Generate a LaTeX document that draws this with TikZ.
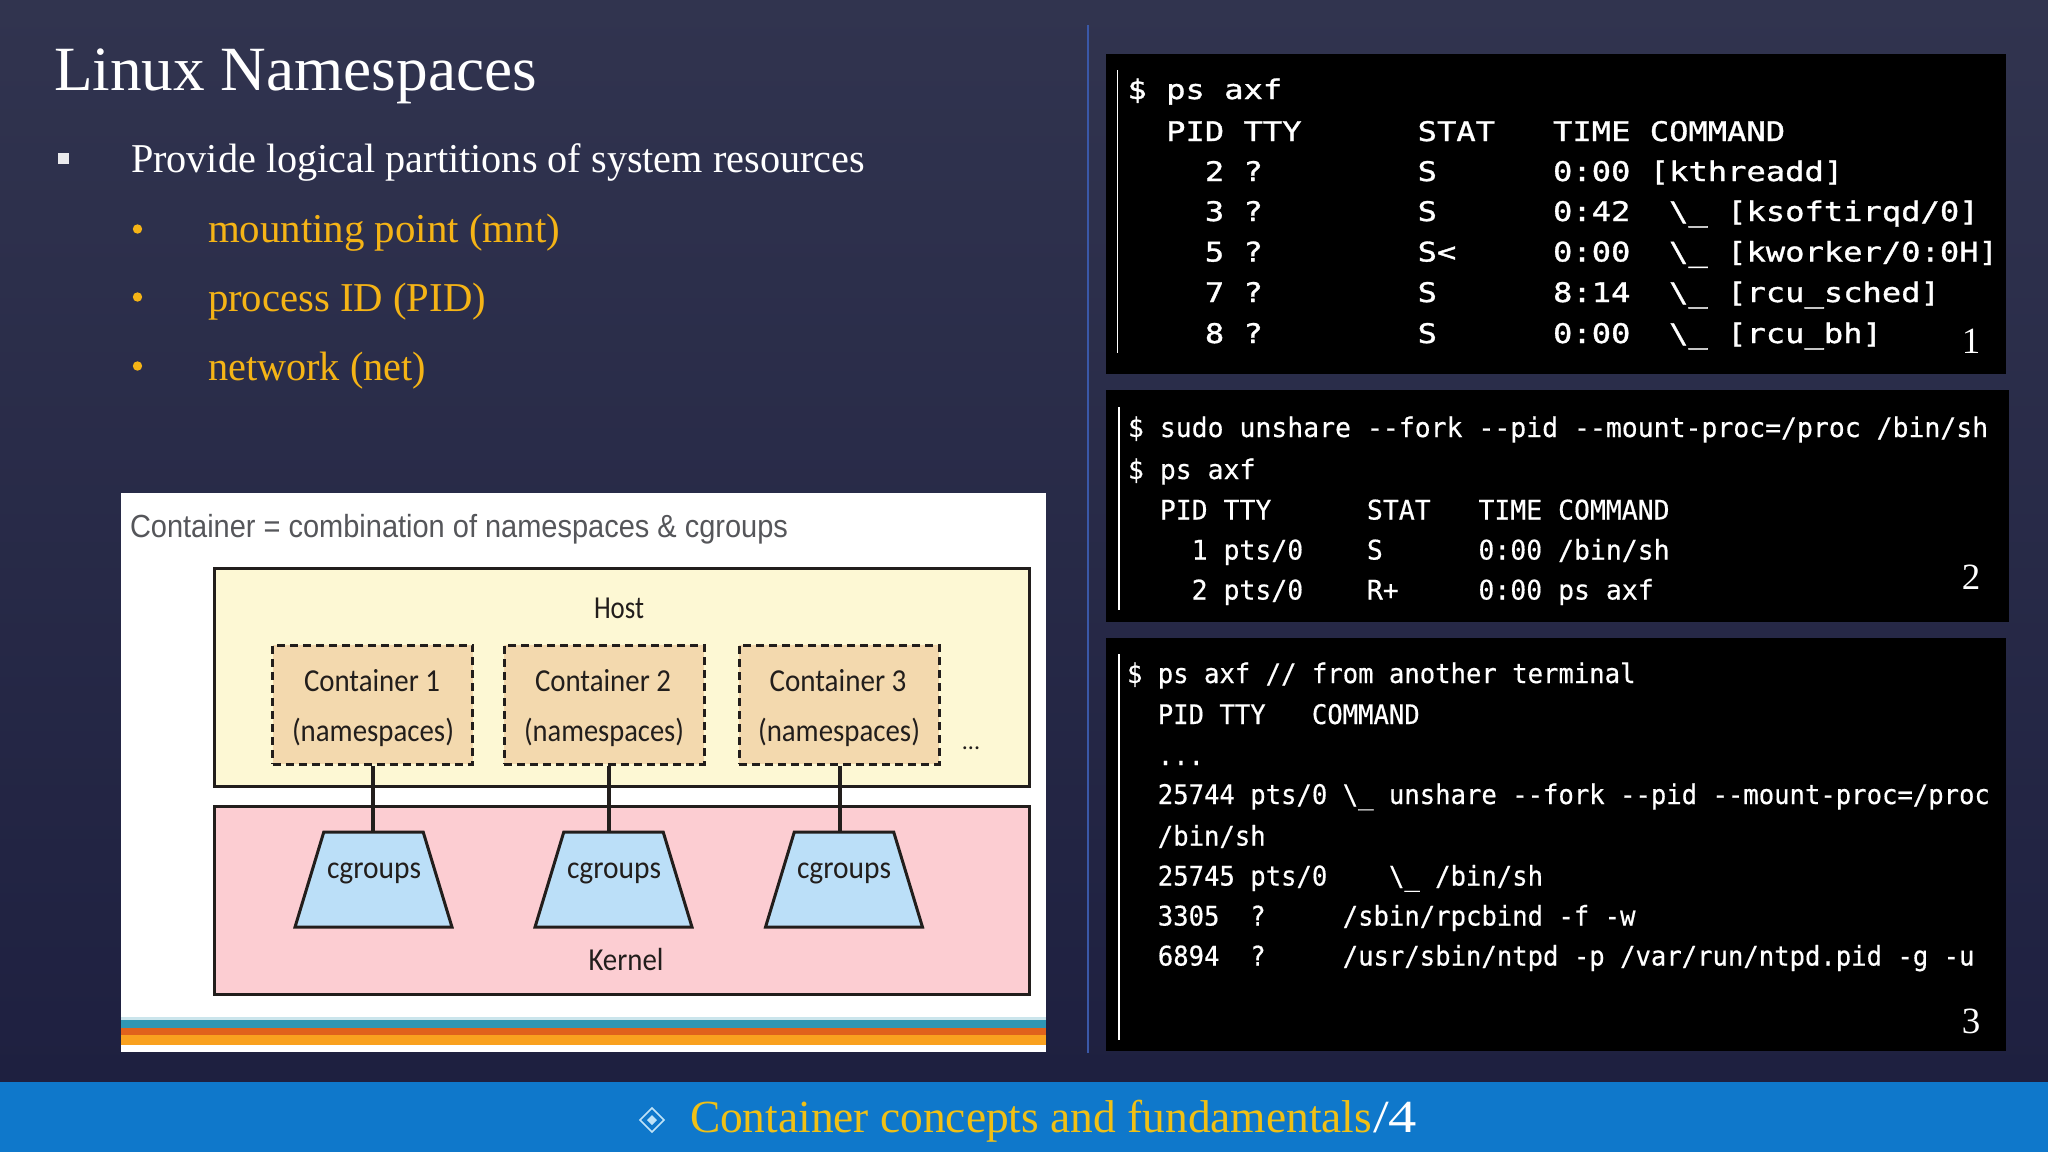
\documentclass[tikz,border=0pt]{standalone}
\usepackage{graphicx}
\usepackage{fontspec}
\usetikzlibrary{shapes.geometric}
\setmainfont{Liberation Serif}
\newfontfamily\lblfont{Carlito}
\newfontfamily\capfont{Liberation Sans}
\newfontfamily\monoa[FakeStretch=1.19,FakeBold=1.2]{DejaVu Sans Mono}
\newfontfamily\monob[FakeStretch=0.98,FakeBold=0.5]{DejaVu Sans Mono}
\newfontfamily\monoc[FakeStretch=0.948,FakeBold=0.5]{DejaVu Sans Mono}
\newsavebox\fitbox
\newcommand\fitx[2]{\sbox\fitbox{#2}\pgfmathsetmacro\fitratio{#1/\wd\fitbox}\scalebox{\fitratio}[1]{\usebox\fitbox}}
\newcommand\fsz[1]{\fontsize{#1}{#1}\selectfont}
\definecolor{bgtop}{HTML}{31344F}
\definecolor{bgmid}{HTML}{2A2C49}
\definecolor{bgbot}{HTML}{1E2040}
\definecolor{barblue}{HTML}{0F78CB}
\definecolor{gold}{HTML}{F5B416}
\definecolor{footgold}{HTML}{F0C015}
\definecolor{rulecol}{HTML}{3A58A8}
\definecolor{ink}{HTML}{221E1C}
\definecolor{hostfill}{HTML}{FDF8D4}
\definecolor{contfill}{HTML}{F3D9AE}
\definecolor{kernfill}{HTML}{FCCDD2}
\definecolor{cgfill}{HTML}{BBDFF8}
\definecolor{capgrey}{HTML}{55565A}
\definecolor{teal}{HTML}{2F97B4}
\definecolor{rust}{HTML}{E0621C}
\definecolor{amber}{HTML}{F9A11F}
\definecolor{icon}{HTML}{BFE3F7}
\tikzset{
  txt/.style={inner sep=0pt,outer sep=0pt,anchor=base west},
  ctr/.style={inner sep=0pt,outer sep=0pt,anchor=base},
  titletxt/.style={txt,text=white,font=\fsz{63}},
  bodytxt/.style={txt,text=white,font=\fsz{41}},
  subtxt/.style={txt,text=gold,font=\fsz{41}},
  foot/.style={txt,text=footgold,font=\fsz{46}},
  panel/.style={fill=black,draw=none},
  tvbar/.style={draw=white,line width=1.3pt},
  ta/.style={txt,text=white,font=\monoa\fsz{27}},
  tb/.style={txt,text=white,font=\monob\fsz{27}},
  tc/.style={txt,text=white,font=\monoc\fsz{27}},
  num/.style={ctr,text=white,font=\fsz{37}},
  boxa/.style={rectangle,draw=ink,line width=3pt,inner sep=0pt},
  contbox/.style={rectangle,draw=ink,fill=contfill,line width=3pt,dash pattern=on 8pt off 5pt,inner sep=0pt,minimum width=200pt,minimum height=119pt},
  cgbox/.style={trapezium,draw=ink,fill=cgfill,line width=3pt,inner sep=0pt,trapezium stretches=true,minimum width=157pt,minimum height=95pt,trapezium left angle=72.5,trapezium right angle=72.5},
  lbl/.style={ctr,text=ink,font=\lblfont\fsz{32}},
  wire/.style={draw=ink,line width=3.6pt},
}
\begin{document}
\begin{tikzpicture}[x=1pt,y=-1pt]
\useasboundingbox (0,0) rectangle (2048,1152);
% background
\shade[top color=bgtop,middle color=bgmid,bottom color=bgbot] (0,0) rectangle (2048,1082);
\fill[barblue] (0,1082) rectangle (2048,1152);
\draw[rulecol,line width=1.6pt] (1088,25) -- (1088,1053);

% left text
\node[titletxt] (title) at (54,90) {\fitx{483}{Linux Namespaces}};
\fill[white!90!bgmid] (57.5,153) rectangle (69,164);
\node[bodytxt] (b0) at (131,172) {\fitx{734}{Provide logical partitions of system resources}};
\fill[gold] (137.5,229) circle (4.7);
\fill[gold] (137.5,297) circle (4.7);
\fill[gold] (137.5,366) circle (4.7);
\node[subtxt] (s1) at (208,242) {\fitx{352}{mounting point (mnt)}};
\node[subtxt] (s2) at (208,311) {\fitx{278}{process ID (PID)}};
\node[subtxt] (s3) at (208,380) {\fitx{218}{network (net)}};

% picture panel
\fill[white] (121,493) rectangle (1046,1052);
\fill[teal!25!white] (121,1017) rectangle (1046,1020);
\fill[teal] (121,1020) rectangle (1046,1028);
\fill[rust] (121,1028) rectangle (1046,1035);
\fill[amber] (121,1035) rectangle (1046,1045);
\node[txt,text=capgrey,font=\capfont\fsz{32}] (cap) at (130,537) {\fitx{658}{Container = combination of namespaces \& cgroups}};

\node[boxa,fill=hostfill,minimum width=815pt,minimum height=218pt] (host) at (621.5,677) {};
\node[boxa,fill=kernfill,minimum width=815pt,minimum height=188pt] (kern) at (621.5,900) {};
\node[contbox] (c1) at (372.75,704.5) {};
\node[contbox] (c2) at (604,704.5) {};
\node[contbox] (c3) at (839,704.5) {};
\node[cgbox] (g1) at (373.5,879.5) {\phantom{x}};
\node[cgbox] (g2) at (613.5,879.5) {\phantom{x}};
\node[cgbox] (g3) at (844,879.5) {\phantom{x}};
\coordinate (j1) at (373,800);
\coordinate (j2) at (609,800);
\coordinate (j3) at (840,800);
\draw[wire] (c1.south -| j1) -- (g1.north -| j1);
\draw[wire] (c2.south -| j2) -- (g2.north -| j2);
\draw[wire] (c3.south -| j3) -- (g3.north -| j3);

\node[lbl] (lhost) at (619,618) {\fitx{50}{Host}};
\node[lbl] (l1a) at (372,691) {\fitx{136}{Container 1}};
\node[lbl] (l1b) at (373,741) {\fitx{162}{(namespaces)}};
\node[lbl] (l2a) at (603,691) {\fitx{136}{Container 2}};
\node[lbl] (l2b) at (604,741) {\fitx{160}{(namespaces)}};
\node[lbl] (l3a) at (838,691) {\fitx{137}{Container 3}};
\node[lbl] (l3b) at (839,741) {\fitx{162}{(namespaces)}};
\node[lbl,font=\lblfont\fsz{24}] (dots) at (971,749) {...};
\node[lbl] (g1t) at (374,878) {\fitx{94}{cgroups}};
\node[lbl] (g2t) at (614,878) {\fitx{94}{cgroups}};
\node[lbl] (g3t) at (844,878) {\fitx{94}{cgroups}};
\node[lbl] (lkern) at (626,970) {\fitx{75}{Kernel}};

% terminal 1
\fill[panel] (1106,54) rectangle (2006,374);
\draw[tvbar] (1117.5,70) -- (1117.5,353);
\node[ta] (a1) at (1127.5,99) {\$ ps axf};
\node[ta] (a2) at (1127.5,141) {~~PID TTY~~~~~~STAT~~~TIME COMMAND};
\node[ta] (a3) at (1127.5,181) {~~~~2 ?~~~~~~~~S~~~~~~0:00 [kthreadd]};
\node[ta] (a4) at (1127.5,221) {~~~~3 ?~~~~~~~~S~~~~~~0:42~~\textbackslash\_ [ksoftirqd/0]};
\node[ta] (a5) at (1127.5,261.5) {~~~~5 ?~~~~~~~~S<~~~~~0:00~~\textbackslash\_ [kworker/0:0H]};
\node[ta] (a6) at (1127.5,302) {~~~~7 ?~~~~~~~~S~~~~~~8:14~~\textbackslash\_ [rcu\_sched]};
\node[ta] (a7) at (1127.5,343) {~~~~8 ?~~~~~~~~S~~~~~~0:00~~\textbackslash\_ [rcu\_bh]};
\node[num] (n1) at (1971,353) {1};

% terminal 2
\fill[panel] (1106,390) rectangle (2009,622);
\draw[tvbar] (1119,407) -- (1119,610);
\node[tb] (b1) at (1128,437) {\$ sudo unshare --fork --pid --mount-proc=/proc /bin/sh};
\node[tb] (b2) at (1128,479) {\$ ps axf};
\node[tb] (b3) at (1128,519.5) {~~PID TTY~~~~~~STAT~~~TIME COMMAND};
\node[tb] (b4) at (1128,559.5) {~~~~1 pts/0~~~~S~~~~~~0:00 /bin/sh};
\node[tb] (b5) at (1128,599.5) {~~~~2 pts/0~~~~R+~~~~~0:00 ps axf};
\node[num] (n2) at (1971,589) {2};

% terminal 3
\fill[panel] (1106,638) rectangle (2006,1051);
\draw[tvbar] (1119,654) -- (1119,1040);
\node[tc] (c01) at (1127,683) {\$ ps axf // from another terminal};
\node[tc] (c02) at (1127,724) {~~PID TTY~~~COMMAND};
\node[tc] (c03) at (1127,765) {~~...};
\node[tc] (c04) at (1127,804) {~~25744 pts/0 \textbackslash\_ unshare --fork --pid --mount-proc=/proc};
\node[tc] (c05) at (1127,845.5) {~~/bin/sh};
\node[tc] (c06) at (1127,885.5) {~~25745 pts/0~~~~\textbackslash\_ /bin/sh};
\node[tc] (c07) at (1127,925.5) {~~3305~~?~~~~~/sbin/rpcbind -f -w};
\node[tc] (c08) at (1127,965.5) {~~6894~~?~~~~~/usr/sbin/ntpd -p /var/run/ntpd.pid -g -u};
\node[num] (n3) at (1971,1033) {3};

% footer
\draw[icon,line width=1.6pt] (652,1108) -- (664,1120) -- (652,1132) -- (640,1120) -- cycle;
\fill[icon] (652,1115) -- (657,1120) -- (652,1125) -- (647,1120) -- cycle;
\node[foot] (f1) at (690,1132) {\fitx{682}{Container concepts and fundamentals}};
\node[foot,text=white] (f2) at (1373,1132) {\fitx{44}{/4}};
\end{tikzpicture}
\end{document}
